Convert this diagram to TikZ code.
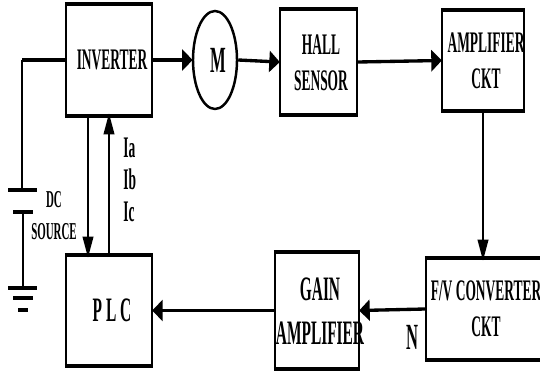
\documentclass[tikz,border=0pt]{standalone}
\usepackage{fontspec}
\usetikzlibrary{arrows.meta,shapes.geometric}
\newfontfamily\narrowfont[FakeStretch=0.45]{Liberation Serif Bold}
\tikzset{
block/.style={shape=rectangle, draw=black, line width=1.2pt, inner sep=0pt},
motor/.style={shape=ellipse, draw=black, line width=1.4pt, inner sep=0pt},
lab/.style={align=center, inner sep=0pt, font=\narrowfont\fontsize{17}{18.5}\selectfont},
smalllab/.style={align=center, inner sep=0pt, font=\narrowfont\fontsize{13.8}{16.5}\selectfont},
biglab/.style={align=center, inner sep=0pt, font=\narrowfont\fontsize{19.5}{22}\selectfont},
rule/.style={line width=2.2pt},
hwire/.style={line width=1.9pt},
vwire/.style={line width=1.2pt},
harrow/.style={hwire, -{Triangle[length=6pt, width=12pt]}, shorten >=-0.5pt},
varrow/.style={vwire, -{Triangle[length=12pt, width=6pt]}, shorten >=-1pt},
}
\begin{document}
\begin{tikzpicture}[x=0.02cm, y=-0.02cm]
\useasboundingbox (0,0) rectangle (540,371);
\node[block, minimum width=1.72cm, minimum height=2.2cm] (INV) at (109,60) {};
\node[block, minimum width=1.54cm, minimum height=2.08cm] (HALL) at (318.5,62) {};
\node[block, minimum width=1.64cm, minimum height=1.98cm] (AMP) at (483,60.5) {};
\node[block, minimum width=2.32cm, minimum height=2.00cm] (FV) at (484,309) {};
\node[block, minimum width=1.68cm, minimum height=2.30cm] (GAIN) at (317,310.5) {};
\node[block, minimum width=1.72cm, minimum height=2.18cm] (PLC) at (109,310.5) {};
\node[motor, minimum width=0.88cm, minimum height=1.96cm] (M) at (215,60) {};
\node[biglab] (Mtxt) at (218,60) {\fontsize{21}{22}\selectfont M};
\node[lab] (INVtxt) at (112,60) {INVERTER};
\node[lab] (HALLtxt) at (321,62.5) {HALL\\[2pt]SENSOR};
\node[lab] (AMPtxt) at (486,61) {AMPLIFIER\\[2pt]CKT};
\node[lab] (FVtxt) at (486,309) {F/V CONVERTER\\[2pt]CKT};
\node[biglab] (GAINtxt) at (320,311) {GAIN\\[3pt]AMPLIFIER};
\node[biglab] (PLCtxt) at (112,310) {P L C};
\node[smalllab] (DCtxt) at (54,215.5) {DC\\[2pt]SOURCE};
\node[lab, anchor=west] (Ia) at (123,148) {Ia};
\node[lab, anchor=west] (Ib) at (123,179) {Ib};
\node[lab, anchor=west] (Ic) at (123,212) {Ic};
\node[biglab] (Ntxt) at (412,337) {\fontsize{21}{22}\selectfont N};
\path [rule] (INV.north west) edge (INV.north east);
\path [rule] (INV.south west) edge (INV.south east);
\path [rule] (HALL.north west) edge (HALL.north east);
\path [rule] (HALL.south west) edge (HALL.south east);
\path [rule] (AMP.north west) edge (AMP.north east);
\path [rule] (AMP.south west) edge (AMP.south east);
\path [rule] (FV.north west) edge (FV.north east);
\path [rule] (FV.south west) edge (FV.south east);
\path [rule] (GAIN.north west) edge (GAIN.north east);
\path [rule] (GAIN.south west) edge (GAIN.south east);
\path [rule] (PLC.north west) edge (PLC.north east);
\path [rule] (PLC.south west) edge (PLC.south east);
\path [harrow] (INV.east) edge (M.west);
\path [harrow] (M.east) edge (HALL.west);
\path [harrow] (HALL.east) edge (AMP.west);
\coordinate (FVtop) at (483,259);
\path [varrow] (AMP.south) edge (FVtop);
\path [harrow] (FV.west) edge (GAIN.east);
\path [harrow] (GAIN.west) edge (PLC.east);
\coordinate (INVa) at (88,115);
\coordinate (PLCa) at (88,256);
\coordinate (INVb) at (109,115);
\coordinate (PLCb) at (109,256);
\path [varrow] (INVa) edge (PLCa);
\path [varrow] (PLCb) edge (INVb);
\coordinate (wire) at (22,60);
\coordinate (plateA) at (22,190);
\coordinate (plateB) at (23,212);
\coordinate (plateC) at (23,288);
\coordinate (A1) at (8,190);   \coordinate (A2) at (37,190);
\coordinate (B1) at (13,212);  \coordinate (B2) at (33,212);
\coordinate (C1) at (8,288);   \coordinate (C2) at (37,288);
\coordinate (D1) at (13,298);  \coordinate (D2) at (33,298);
\coordinate (E1) at (18,310);  \coordinate (E2) at (28,310);
\path [hwire] (INV.west) edge (wire);
\path [vwire] (wire) edge (plateA);
\path [vwire] (plateB) edge (plateC);
\path [hwire] (A1) edge (A2);
\path [hwire] (B1) edge (B2);
\path [hwire] (C1) edge (C2);
\path [hwire] (D1) edge (D2);
\path [hwire] (E1) edge (E2);
\end{tikzpicture}
\end{document}
